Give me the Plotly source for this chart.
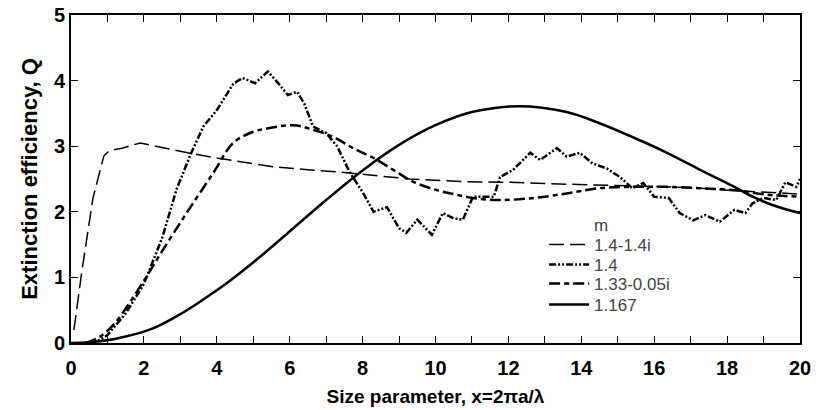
import plotly.graph_objects as go

# Series: 1.4-1.4i
xa = [0.08, 0.3, 0.6, 0.9, 1.05, 1.4, 1.9, 2.5, 3.2, 4.0, 4.5, 5.5, 6.5, 7.5, 8.2, 9.3, 10.7, 12, 13, 14.5, 16, 17, 18, 19, 20]
ya = [0.2, 1.1, 2.2, 2.85, 2.93, 2.97, 3.05, 2.98, 2.9, 2.82, 2.78, 2.69, 2.64, 2.6, 2.56, 2.5, 2.46, 2.45, 2.43, 2.41, 2.39, 2.37, 2.33, 2.3, 2.27]

# Series: 1.4
xb = [0.5, 0.8, 1.0, 1.5, 2.0, 2.5, 2.9, 3.3, 3.63, 4.0, 4.45, 4.7, 5.05, 5.4, 5.7, 5.95, 6.2, 6.4, 6.64, 7.0, 7.3, 7.65, 8.0, 8.3, 8.67, 9.0, 9.2, 9.5, 9.9, 10.2, 10.5, 10.75, 11.03, 11.6, 11.77, 12.13, 12.6, 12.87, 13.33, 13.6, 13.96, 14.3, 14.7, 15.06, 15.4, 15.7, 16.0, 16.4, 16.7, 17.07, 17.4, 17.8, 18.2, 18.5, 18.7, 19.0, 19.35, 19.6, 19.9, 20]
yb = [0.0, 0.05, 0.12, 0.45, 0.9, 1.6, 2.35, 2.9, 3.3, 3.55, 3.95, 4.04, 3.96, 4.14, 3.95, 3.78, 3.83, 3.65, 3.3, 3.2, 3.0, 2.6, 2.3, 2.0, 2.07, 1.75, 1.68, 1.88, 1.65, 1.98, 1.9, 1.88, 2.23, 2.23, 2.53, 2.64, 2.9, 2.79, 2.97, 2.84, 2.9, 2.74, 2.66, 2.53, 2.36, 2.44, 2.23, 2.21, 1.98, 1.87, 1.95, 1.85, 2.03, 1.98, 2.13, 2.21, 2.18, 2.45, 2.38, 2.5]

# Series: 1.33-0.05i
xc = [0.4, 0.8, 1.2, 2.0, 2.5, 3.17, 3.9, 4.45, 5.0, 5.38, 6.1, 6.64, 7.2, 7.74, 8.3, 8.84, 9.38, 10.04, 10.5, 11.03, 11.77, 12.7, 13.6, 14.5, 15.4, 16.35, 17.26, 18.2, 19.1, 20]
yc = [0.0, 0.1, 0.3, 0.95, 1.4, 1.98, 2.59, 3.05, 3.22, 3.27, 3.32, 3.25, 3.14, 2.97, 2.82, 2.64, 2.46, 2.33, 2.27, 2.21, 2.18, 2.21, 2.28, 2.36, 2.38, 2.38, 2.36, 2.33, 2.26, 2.23]

# Series: 1.167
xd = [0, 0.5, 1.07, 1.5, 1.98, 2.36, 3.0, 3.54, 4.27, 5.18, 6.1, 7.0, 8.0, 9.0, 10.0, 11.0, 12.3, 13.6, 14.5, 15.4, 16.35, 17.26, 18.2, 18.7, 19.26, 20]
yd = [0, 0.01, 0.05, 0.1, 0.17, 0.25, 0.44, 0.63, 0.91, 1.31, 1.75, 2.18, 2.63, 3.02, 3.32, 3.52, 3.61, 3.52, 3.35, 3.14, 2.9, 2.64, 2.38, 2.23, 2.1, 1.98]

names = ["1.4-1.4i", "1.4", "1.33-0.05i", "1.167"]
legend_title = "m"

FONT = "Arial, Liberation Sans, sans-serif"
LEGEND_FONT = dict(family=FONT, size=17, color="#444")

fig = go.Figure()
fig.add_trace(go.Scatter(x=xa, y=ya, mode="lines", name=names[0], legend="legend",
                         line=dict(color="black", width=1.5, dash="15px,6px")))
fig.add_trace(go.Scatter(x=xb, y=yb, mode="lines", name=names[1], legend="legend2",
                         line=dict(color="black", width=2.5, dash="7px,2px,2px,2px,2px,2px")))
fig.add_trace(go.Scatter(x=xc, y=yc, mode="lines", name=names[2], line_shape="spline", legend="legend3",
                         line=dict(color="black", width=2.5, dash="11px,4px,5px,4px")))
fig.add_trace(go.Scatter(x=xd, y=yd, mode="lines", name=names[3], line_shape="spline", legend="legend4",
                         line=dict(color="black", width=2.5)))

axis_common = dict(showline=True, linecolor="black", linewidth=2, mirror="ticks",
                   ticks="inside", ticklen=7, tickwidth=1, tickcolor="black",
                   showgrid=False, zeroline=False, automargin=False,
                   tickfont=dict(family=FONT, size=20, color="black", weight="bold"))

fig.update_xaxes(range=[0, 20], dtick=2, tick0=0, ticklabelstandoff=6,
                 minor=dict(dtick=1, ticks="inside", ticklen=7, tickcolor="black", showgrid=False),
                 title=dict(text="Size parameter, x=2πa/λ", standoff=12,
                            font=dict(family=FONT, size=19, color="black", weight="bold")),
                 **axis_common)
fig.update_yaxes(range=[0, 5], dtick=1, tick0=0,
                 title=dict(text="Extinction efficiency, Q", standoff=10,
                            font=dict(family=FONT, size=22, color="black", weight="bold")),
                 **axis_common)

def leg(ypaper):
    return dict(x=0.649, y=ypaper, xanchor="left", yanchor="middle",
                bgcolor="rgba(0,0,0,0)", borderwidth=0, font=LEGEND_FONT, itemwidth=40)

# legend row centers (pixel rows 245, 265, 284, 305 in a 15..343 plot area)
fig.update_layout(
    width=818, height=410,
    margin=dict(l=71, r=18, t=15, b=67),
    paper_bgcolor="white", plot_bgcolor="white",
    showlegend=True,
    legend=leg((343 - 245) / 328),
    legend2=leg((343 - 265) / 328),
    legend3=leg((343 - 284) / 328),
    legend4=leg((343 - 305) / 328),
    annotations=[dict(text=legend_title, xref="paper", yref="paper",
                      x=(592 - 71) / 729, y=(343 - 225) / 328, xanchor="left", yanchor="middle",
                      showarrow=False, font=LEGEND_FONT)],
)

fig.write_html("out.html")
